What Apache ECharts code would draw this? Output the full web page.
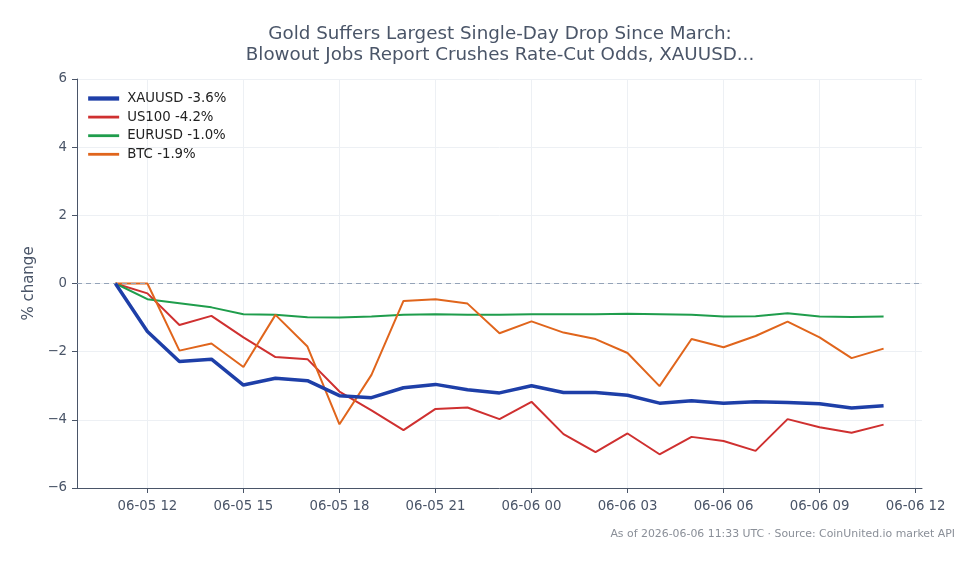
<!DOCTYPE html>
<html>
<head>
<meta charset="utf-8">
<script src="https://cdn.jsdelivr.net/npm/echarts@6/dist/echarts.min.js"></script>
<style>
  html, body { margin: 0; padding: 0; background: #fff; }
  #chart { width: 979px; height: 564px; }
</style>
</head>
<body>
<div id="chart"></div>
<script>
// hours counted from 06-05 00:00 UTC
var hours = [11, 12, 13, 14, 15, 16, 17, 18, 19, 20, 21, 22, 23, 24, 25, 26, 27, 28, 29, 30, 31, 32, 33, 34, 35];
var xauusd = [0, -1.41, -2.29, -2.22, -2.98, -2.78, -2.85, -3.29, -3.35, -3.06, -2.96, -3.12, -3.21, -3.0, -3.2, -3.2, -3.28, -3.51, -3.44, -3.51, -3.47, -3.49, -3.53, -3.65, -3.59];
var us100 = [0, -0.29, -1.22, -0.95, -1.58, -2.16, -2.22, -3.17, -3.72, -4.3, -3.68, -3.64, -3.98, -3.47, -4.42, -4.95, -4.4, -5.01, -4.5, -4.62, -4.91, -3.98, -4.22, -4.38, -4.14];
var eurusd = [0, -0.46, -0.58, -0.7, -0.9, -0.92, -0.99, -1.0, -0.97, -0.92, -0.9, -0.92, -0.92, -0.9, -0.9, -0.9, -0.89, -0.9, -0.92, -0.97, -0.96, -0.87, -0.97, -0.98, -0.97];
var btc = [0, 0, -1.97, -1.76, -2.45, -0.92, -1.85, -4.13, -2.68, -0.51, -0.46, -0.59, -1.46, -1.11, -1.44, -1.63, -2.04, -3.01, -1.63, -1.87, -1.54, -1.12, -1.58, -2.19, -1.91];
var tickHours = [12, 15, 18, 21, 24, 27, 30, 33, 36];
var tickLabels = ['06-05 12', '06-05 15', '06-05 18', '06-05 21', '06-06 00', '06-06 03', '06-06 06', '06-06 09', '06-06 12'];
var seriesNames = ['XAUUSD -3.6%', 'US100 -4.2%', 'EURUSD -1.0%', 'BTC -1.9%'];
var colors = ['#1e3fa8', '#cf3030', '#1f9d4c', '#e0651c'];
var widths = [3.5, 2, 2, 2];

function pairs(vals) {
  return vals.map(function (v, i) { return [hours[i], v]; });
}

var textColor = '#4a5568';
var font = 'DejaVu Sans';

var chart = echarts.init(document.getElementById('chart'));
chart.setOption({
  animation: false,
  textStyle: { fontFamily: font },
  title: {
    text: 'Gold Suffers Largest Single-Day Drop Since March:\nBlowout Jobs Report Crushes Rate-Cut Odds, XAUUSD...',
    left: 495,
    top: 19,
    textAlign: 'center',
    textStyle: { fontFamily: font, fontSize: 18.3, fontWeight: 'normal', color: textColor, lineHeight: 21 }
  },
  legend: {
    orient: 'vertical',
    left: 86,
    top: 92,
    padding: 0,
    itemWidth: 31,
    itemHeight: 14,
    itemGap: 5.6,
    itemStyle: { opacity: 0 },
    data: seriesNames.map(function (n, i) {
      return { name: n, lineStyle: { color: colors[i], width: widths[i] + 0.8 } };
    }),
    textStyle: { fontFamily: font, fontSize: 13.3, color: '#222', padding: [0, 0, 0, 3] }
  },
  grid: { left: 77, right: 57, top: 79, bottom: 76 },
  xAxis: {
    type: 'value',
    min: 9.8,
    max: 36.2,
    axisLine: { show: true, onZero: false, lineStyle: { color: textColor, width: 1 } },
    axisTick: { show: true, length: 5, customValues: tickHours, lineStyle: { color: textColor } },
    axisLabel: {
      customValues: tickHours,
      color: textColor,
      fontSize: 13.3,
      margin: 12,
      formatter: function (v) { return tickLabels[tickHours.indexOf(v)]; }
    },
    splitLine: { show: true, lineStyle: { color: '#edf0f4', width: 1 } }
  },
  yAxis: {
    type: 'value',
    min: -6,
    max: 6,
    interval: 2,
    name: '% change',
    nameLocation: 'middle',
    nameGap: 38,
    nameTextStyle: { fontFamily: font, fontSize: 15, color: textColor },
    axisLine: { show: true, lineStyle: { color: textColor, width: 1 } },
    axisTick: { show: true, length: 5, lineStyle: { color: textColor } },
    axisLabel: {
      color: textColor,
      fontSize: 13.3,
      margin: 10,
      formatter: function (v) { return String(v).replace('-', '\u2212'); }
    },
    splitLine: { show: true, lineStyle: { color: '#edf0f4', width: 1 } }
  },
  series: [
    {
      name: seriesNames[0], type: 'line', data: pairs(xauusd), symbol: 'none', z: 5,
      lineStyle: { color: colors[0], width: widths[0] }, itemStyle: { color: colors[0] },
      markLine: {
        silent: true, symbol: 'none', label: { show: false },
        lineStyle: { color: '#94a3b8', type: [5, 4], width: 1 },
        data: [{ yAxis: 0 }]
      }
    },
    {
      name: seriesNames[1], type: 'line', data: pairs(us100), symbol: 'none',
      lineStyle: { color: colors[1], width: widths[1] }, itemStyle: { color: colors[1] }
    },
    {
      name: seriesNames[2], type: 'line', data: pairs(eurusd), symbol: 'none',
      lineStyle: { color: colors[2], width: widths[2] }, itemStyle: { color: colors[2] }
    },
    {
      name: seriesNames[3], type: 'line', data: pairs(btc), symbol: 'none',
      lineStyle: { color: colors[3], width: widths[3] }, itemStyle: { color: colors[3] }
    }
  ],
  graphic: [{
    type: 'text',
    right: 24,
    top: 529,
    style: {
      text: 'As of 2026-06-06 11:33 UTC \u00b7 Source: CoinUnited.io market API',
      fill: '#8a8f98',
      font: '10.9px "DejaVu Sans"'
    }
  }]
});
</script>
</body>
</html>
